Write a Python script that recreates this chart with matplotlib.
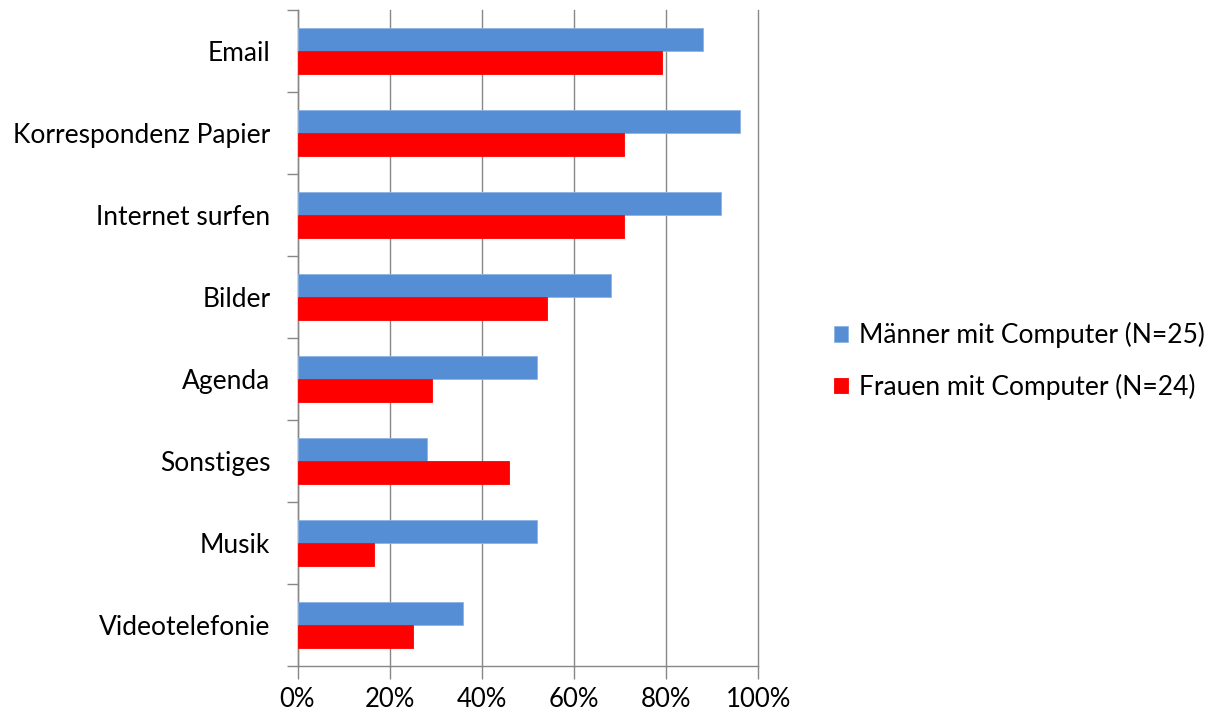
import matplotlib
matplotlib.use("Agg")
import matplotlib.pyplot as plt
from matplotlib.ticker import FixedLocator, PercentFormatter

plt.rcParams['font.family'] = ['Lato', 'DejaVu Sans']

categories = ["Email", "Korrespondenz Papier", "Internet surfen", "Bilder",
              "Agenda", "Sonstiges", "Musik", "Videotelefonie"]
maenner = [88, 96, 92, 68, 52, 28, 52, 36]
frauen = [79.17, 70.83, 70.83, 54.17, 29.17, 45.83, 16.67, 25.0]
series_labels = ["Männer mit Computer (N=25)", "Frauen mit Computer (N=24)"]
x_ticks = [0, 20, 40, 60, 80, 100]

blue = "#558ED5"
red = "#FF0000"
grid_c = "#878787"

fig = plt.figure(figsize=(12.18, 7.15), dpi=100)
ax = fig.add_axes([297.5 / 1218, 1 - 666 / 715, (758.3 - 297.5) / 1218, (666 - 10) / 715])

n = len(categories)
ypos = [n - 1 - i for i in range(n)]
h = 0.285
ax.barh([y + h / 2 for y in ypos], maenner, height=h, color=blue,
        edgecolor="#8DB3E2", linewidth=0.6, label=series_labels[0], zorder=3)
ax.barh([y - h / 2 for y in ypos], frauen, height=h, color=red,
        edgecolor="#FF0000", linewidth=0.6, label=series_labels[1], zorder=3)

ax.set_xlim(0, 100)
ax.set_ylim(-0.5, n - 0.5)
ax.xaxis.set_major_locator(FixedLocator(x_ticks))
ax.xaxis.set_major_formatter(PercentFormatter(decimals=0))
ax.grid(axis="x", color=grid_c, linewidth=1.0, zorder=0)
for gl in ax.get_xgridlines():
    gl.set_clip_on(False)

# category boundaries carry the tick marks, centres carry the labels
ax.yaxis.set_major_locator(FixedLocator([k - 0.5 for k in range(n + 1)]))
ax.set_yticklabels([])
ax.yaxis.set_minor_locator(FixedLocator(ypos))
ax.set_yticklabels(categories, minor=True)
ax.tick_params(axis="y", which="major", length=8, width=1, color=grid_c)
ax.tick_params(axis="y", which="minor", length=0, pad=19.5, labelsize=19)
ax.tick_params(axis="x", length=9, width=1, color=grid_c, labelsize=18.5, pad=6)

for side in ["top", "right"]:
    ax.spines[side].set_visible(False)
for side in ["left", "bottom"]:
    ax.spines[side].set_color(grid_c)
    ax.spines[side].set_linewidth(1.0)

leg = fig.legend(loc="center left", bbox_to_anchor=(834 / 1218, 1 - 361 / 715),
                 frameon=False, fontsize=19, handlelength=0.52, handleheight=0.52,
                 handletextpad=0.42, labelspacing=0.95, borderpad=0, borderaxespad=0)

fig.savefig("out.png", dpi=100)
